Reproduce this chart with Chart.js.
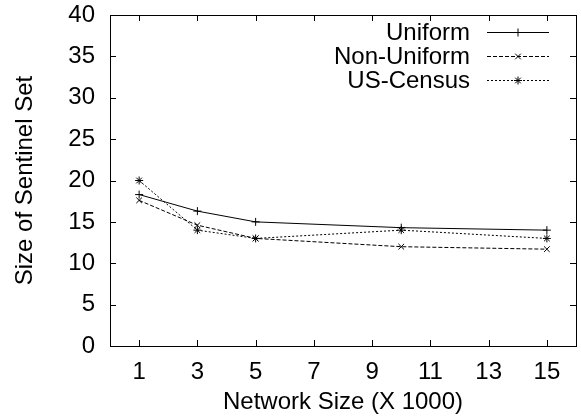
<!DOCTYPE html>
<html>
<head>
<meta charset="utf-8">
<script src="https://cdn.jsdelivr.net/npm/chart.js@4/dist/chart.umd.min.js"></script>
<style>
  html, body { margin: 0; padding: 0; background: #fff; }
</style>
</head>
<body>
<canvas id="chart" width="581" height="419"></canvas>
<script>
// data
const networkSizes = [1, 3, 5, 10, 15];
const uniform    = [18.3, 16.3, 15.0, 14.3, 14.0];
const nonUniform = [17.6, 14.6, 13.0, 12.0, 11.7];
const usCensus   = [20.0, 14.0, 13.0, 14.0, 13.0];
const seriesNames = ["Uniform", "Non-Uniform", "US-Census"];
const xTicks = [1, 3, 5, 7, 9, 11, 13, 15];
const yTicks = [0, 5, 10, 15, 20, 25, 30, 35, 40];

const FONT = "'Liberation Sans', Arial, Helvetica, sans-serif";
const FSIZE = 24;

function toPoints(ys) {
  return networkSizes.map((x, i) => ({ x, y: ys[i] }));
}

function makeSet(label, ys, dash, marker) {
  return {
    label,
    data: toPoints(ys),
    borderColor: "#000",
    backgroundColor: "#000",
    borderWidth: 1,
    borderDash: dash,
    pointStyle: marker,
    pointRadius: 4,
    pointBorderWidth: 1,
    pointBorderColor: "#000",
    pointBackgroundColor: "#000",
    tension: 0
  };
}

// box + inward ticks, gnuplot style
const framePlugin = {
  id: "frame",
  beforeDatasetsDraw(chart) {
    const { ctx, chartArea: a, scales } = chart;
    const tl = 6;
    ctx.save();
    ctx.strokeStyle = "#000";
    ctx.lineWidth = 1;
    ctx.strokeRect(a.left + 0.5, a.top + 0.5, a.right - a.left, a.bottom - a.top);
    ctx.beginPath();
    xTicks.forEach(v => {
      const x = Math.round(scales.x.getPixelForValue(v)) + 0.5;
      ctx.moveTo(x, a.bottom); ctx.lineTo(x, a.bottom - tl);
      ctx.moveTo(x, a.top); ctx.lineTo(x, a.top + tl);
    });
    yTicks.forEach(v => {
      const y = Math.round(scales.y.getPixelForValue(v)) + 0.5;
      ctx.moveTo(a.left, y); ctx.lineTo(a.left + tl, y);
      ctx.moveTo(a.right, y); ctx.lineTo(a.right - tl, y);
    });
    ctx.stroke();
    ctx.restore();
  }
};

// key in the top right, text right aligned then line sample
const keyPlugin = {
  id: "key",
  afterDraw(chart) {
    const ctx = chart.ctx;
    const textRight = 470, lineL = 487, lineR = 549;
    const rows = [32, 56, 80];
    ctx.save();
    ctx.font = FSIZE + "px " + FONT;
    ctx.fillStyle = "#000";
    ctx.textAlign = "right";
    ctx.textBaseline = "middle";
    chart.data.datasets.forEach((ds, i) => {
      const y = rows[i];
      ctx.fillText(ds.label, textRight, y + 1);
      ctx.beginPath();
      ctx.strokeStyle = "#000";
      ctx.lineWidth = 1;
      ctx.setLineDash(ds.borderDash);
      ctx.moveTo(lineL, y + 0.5);
      ctx.lineTo(lineR, y + 0.5);
      ctx.stroke();
      ctx.setLineDash([]);
      Chart.helpers.drawPoint(ctx, {
        pointStyle: ds.pointStyle, radius: ds.pointRadius, borderWidth: 1
      }, (lineL + lineR) / 2, y + 0.5);
    });
    ctx.restore();
  }
};

new Chart(document.getElementById("chart"), {
  type: "line",
  data: {
    datasets: [
      makeSet(seriesNames[0], uniform, [], "cross"),
      makeSet(seriesNames[1], nonUniform, [4, 2], "crossRot"),
      makeSet(seriesNames[2], usCensus, [2, 2], "star")
    ]
  },
  options: {
    responsive: false,
    animation: false,
    layout: { padding: { top: 15, right: 3, left: 0, bottom: 0 } },
    plugins: {
      legend: { display: false },
      tooltip: { enabled: false }
    },
    scales: {
      x: {
        type: "linear",
        min: 0,
        max: 16,
        afterBuildTicks: s => { s.ticks = xTicks.map(v => ({ value: v })); },
        afterFit: s => { s.height = 73; s.paddingLeft = 0; s.paddingRight = 0; },
        grid: { display: false, drawTicks: false },
        border: { display: false },
        ticks: {
          color: "#000",
          padding: 12,
          maxRotation: 0,
          autoSkip: false,
          font: { family: FONT, size: FSIZE }
        },
        title: {
          display: true,
          text: "Network Size (X 1000)",
          color: "#000",
          padding: { top: 0, bottom: 2 },
          font: { family: FONT, size: FSIZE }
        }
      },
      y: {
        min: 0,
        max: 40,
        afterBuildTicks: s => { s.ticks = yTicks.map(v => ({ value: v })); },
        afterFit: s => { s.width = 110; s.paddingTop = 0; s.paddingBottom = 0; },
        grid: { display: false, drawTicks: false },
        border: { display: false },
        ticks: {
          color: "#000",
          padding: 15,
          font: { family: FONT, size: FSIZE }
        },
        title: {
          display: true,
          text: "Size of Sentinel Set",
          color: "#000",
          padding: { top: 11, bottom: 0 },
          font: { family: FONT, size: FSIZE }
        }
      }
    }
  },
  plugins: [framePlugin, keyPlugin]
});
</script>
</body>
</html>
